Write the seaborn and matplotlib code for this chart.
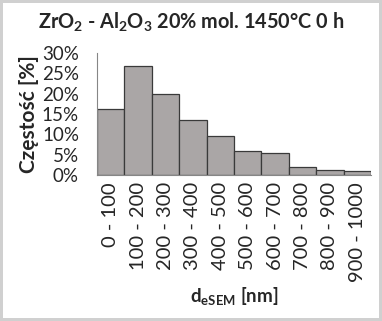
import matplotlib
matplotlib.use("Agg")
import matplotlib.pyplot as plt
import seaborn as sns
import pandas as pd
from matplotlib.ticker import PercentFormatter, FixedLocator

# dane
przedzialy = ["0 - 100", "100 - 200", "200 - 300", "300 - 400", "400 - 500",
              "500 - 600", "600 - 700", "700 - 800", "800 - 900", "900 - 1000"]
czestosc = [16.1, 26.8, 20.0, 13.6, 9.7, 5.8, 5.4, 2.0, 1.2, 0.9]

sns.set_style("white")
plt.rcParams["font.family"] = ["Lato", "DejaVu Sans"]
plt.rcParams["mathtext.fontset"] = "custom"
plt.rcParams["mathtext.rm"] = "Lato"
plt.rcParams["mathtext.bf"] = "Lato:bold"

df = pd.DataFrame({"przedzial": przedzialy, "czestosc": czestosc})

fig = plt.figure(figsize=(3.82, 3.21), dpi=100)
fig.patch.set_edgecolor("#d0d0d0")
fig.patch.set_linewidth(3)
ax = fig.add_axes([0.254, 0.455, 0.717, 0.38])

sns.barplot(data=df, x="przedzial", y="czestosc", ax=ax, width=1.0,
            color="#aaa6a6", saturation=1, edgecolor="#3a3a3a", linewidth=0.9)

ax.set_xlim(-0.5, len(przedzialy) - 0.5)
ax.set_ylim(0, 30)
ax.set_yticks(range(0, 31, 5))
ax.yaxis.set_major_formatter(PercentFormatter(decimals=0))
ax.xaxis.set_minor_locator(FixedLocator([i - 0.5 for i in range(len(przedzialy) + 1)]))
ax.tick_params(axis="x", which="major", length=0, labelrotation=90, labelsize=14.5, pad=5)
ax.tick_params(axis="x", which="minor", length=5, color="#868686", width=0.8, direction="out")
ax.tick_params(axis="y", length=5, color="#868686", width=0.8, direction="out", labelsize=13.5, pad=8)
for lab in ax.get_xticklabels():
    lab.set_verticalalignment("top")

for s in ["top", "right"]:
    ax.spines[s].set_visible(False)
for s in ["left", "bottom"]:
    ax.spines[s].set_color("#868686")
    ax.spines[s].set_linewidth(0.8)

ax.set_ylabel("Częstość [%]", fontsize=15, fontweight="bold", labelpad=2)
ax.set_xlabel(r"d$_\mathbf{eSEM}$ [nm]", fontsize=13.5, fontweight="bold", labelpad=3)
fig.text(0.5, 0.93, r"ZrO$_\mathbf{2}$ - Al$_\mathbf{2}$O$_\mathbf{3}$ 20% mol. 1450°C 0 h",
         ha="center", va="center", fontsize=14.3, fontweight="bold")

fig.savefig("out.png", dpi=100)
